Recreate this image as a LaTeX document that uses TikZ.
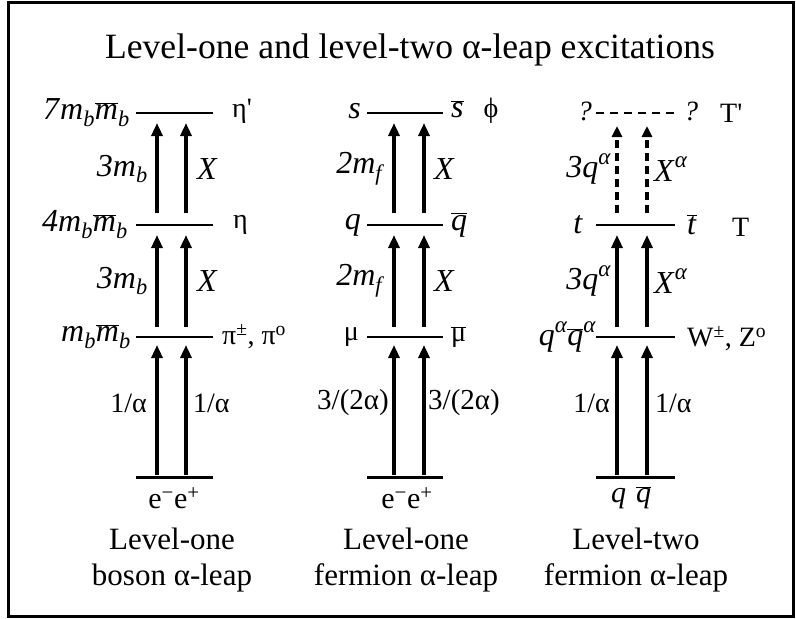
\documentclass[tikz,border=0pt]{standalone}
\usepackage{fontspec}
\setmainfont{Liberation Serif}
\usetikzlibrary{arrows.meta}
\newcommand\Mb{\textit{m}\textsubscript{\textit{b}}}
\newcommand\Mbb{$\overline{\hbox{\textit{m}}}$\textsubscript{\textit{b}}}
\newcommand\ovl[1]{$\overline{\hbox{#1}}$}
\newcommand\supal{\raisebox{0.42em}{\fontsize{23}{24}\selectfont\textit{α}}}
\begin{document}
\begin{tikzpicture}[x=1pt,y=-1pt,
  lbl/.style={inner sep=0pt, font=\fontsize{28}{30}\selectfont},
  ilbl/.style={inner sep=0pt, font=\fontsize{32}{34}\selectfont},
  lft/.style={lbl, anchor=east},
  rgt/.style={lbl, anchor=west},
  ilft/.style={ilbl, anchor=east},
  irgt/.style={ilbl, anchor=west},
  captext/.style={inner sep=0pt, font=\fontsize{31}{36}\selectfont, align=center},
  lvline/.style={line width=2pt},
  groundline/.style={line width=3pt},
  exarrow/.style={line width=3.6pt, -{Triangle[width=11pt,length=13pt]}},
  dasharrow/.style={line width=3.6pt, dash pattern=on 8pt off 5pt, -{Triangle[width=10pt,length=11pt]}},
  dashlevel/.style={line width=2.4pt, dash pattern=on 8pt off 6pt}]
\useasboundingbox (0,0) rectangle (796,619);
\draw[line width=3pt] (8,2.5) rectangle (793.5,616.5);
\node[inner sep=0pt, font=\fontsize{35.6}{40}\selectfont] (title) at (410,50) {Level-one and level-two α-leap excitations};

\foreach \y/\n in {113/a, 225/b, 337/c, 477/d} {
  \coordinate (c1L\n) at (136,\y); \coordinate (c1R\n) at (213,\y);
  \coordinate (c2L\n) at (367,\y); \coordinate (c2R\n) at (443,\y);
  \coordinate (c3L\n) at (596,\y); \coordinate (c3R\n) at (675,\y);
}
% ---------- column 1 ----------
\draw[lvline] (c1La) -- (c1Ra);
\draw[lvline] (c1Lb) -- (c1Rb);
\draw[lvline] (c1Lc) -- (c1Rc);
\draw[groundline] (c1Ld) -- (c1Rd);
\foreach \x/\k in {157/p, 186/q} {
  \coordinate (c1\k1) at (\x,213); \coordinate (c1\k2) at (\x,123);
  \coordinate (c1\k3) at (\x,327); \coordinate (c1\k4) at (\x,235);
  \coordinate (c1\k5) at (\x,475); \coordinate (c1\k6) at (\x,345);
  \draw[exarrow] (c1\k1) -- (c1\k2);
  \draw[exarrow] (c1\k3) -- (c1\k4);
  \draw[exarrow] (c1\k5) -- (c1\k6);
}
\node[ilft] (l1a) at (130,113) {\textit{7}\Mb\Mbb};
\node[ilft] (l1b) at (128,225) {\textit{4}\Mb\Mbb};
\node[ilft] (l1c) at (131,337) {\Mb\Mbb};
\node[rgt] (r1a) at (232,111) {η\textquotesingle};
\node[rgt] (r1b) at (233,225) {η};
\node[rgt] (r1c) at (222,337) {π\textsuperscript{±}, π\textsuperscript{o}};
\node[ilft] (u1a) at (148,169) {\textit{3}\Mb};
\node[irgt] (u1b) at (197,169) {\textit{X}};
\node[ilft] (m1a) at (148,281) {\textit{3}\Mb};
\node[irgt] (m1b) at (197,281) {\textit{X}};
\node[lft] (d1a) at (147,403) {1/α};
\node[rgt] (d1b) at (193,403) {1/α};
\node[lbl, font=\fontsize{30}{34}\selectfont] (e1) at (174,498) {e\textsuperscript{−}e\textsuperscript{+}};
\node[captext] (cap1) at (172,560) {Level-one\\[0pt]boson α-leap};

% ---------- column 2 ----------
\draw[lvline] (c2La) -- (c2Ra);
\draw[lvline] (c2Lb) -- (c2Rb);
\draw[lvline] (c2Lc) -- (c2Rc);
\draw[groundline] (c2Ld) -- (c2Rd);
\foreach \x/\k in {394/p, 424/q} {
  \coordinate (c2\k1) at (\x,213); \coordinate (c2\k2) at (\x,123);
  \coordinate (c2\k3) at (\x,327); \coordinate (c2\k4) at (\x,235);
  \coordinate (c2\k5) at (\x,475); \coordinate (c2\k6) at (\x,345);
  \draw[exarrow] (c2\k1) -- (c2\k2);
  \draw[exarrow] (c2\k3) -- (c2\k4);
  \draw[exarrow] (c2\k5) -- (c2\k6);
}
\node[ilft] (l2a) at (361,111) {\textit{s}};
\node[ilft] (l2b) at (361,225) {\textit{q}};
\node[lft] (l2c) at (359,337) {μ};
\node[irgt] (r2a) at (451,111) {\ovl{\textit{s}}\hspace{20pt}\fontsize{28}{30}\selectfont ϕ};
\node[irgt] (r2b) at (451,225) {\ovl{\textit{q}}};
\node[rgt] (r2c) at (451,337) {\ovl{μ}};
\node[ilft] (u2a) at (385,169) {\textit{2}\textit{m}\textsubscript{\textit{f}}};
\node[irgt] (u2b) at (434,169) {\textit{X}};
\node[ilft] (m2a) at (385,281) {\textit{2}\textit{m}\textsubscript{\textit{f}}};
\node[irgt] (m2b) at (434,281) {\textit{X}};
\node[lft, font=\fontsize{29}{30}\selectfont] (d2a) at (389,403) {3/(2α)};
\node[rgt, font=\fontsize{29}{30}\selectfont] (d2b) at (428,403) {3/(2α)};
\node[lbl, font=\fontsize{30}{34}\selectfont] (e2) at (407,498) {e\textsuperscript{−}e\textsuperscript{+}};
\node[captext] (cap2) at (406,560) {Level-one\\[0pt]fermion α-leap};

% ---------- column 3 ----------
\draw[dashlevel] (c3La) -- (c3Ra);
\draw[lvline] (c3Lb) -- (c3Rb);
\draw[lvline] (c3Lc) -- (c3Rc);
\draw[groundline] (c3Ld) -- (c3Rd);
\foreach \x/\k in {617/p, 647/q} {
  \coordinate (c3\k1) at (\x,213); \coordinate (c3\k2) at (\x,126);
  \coordinate (c3\k3) at (\x,327); \coordinate (c3\k4) at (\x,235);
  \coordinate (c3\k5) at (\x,475); \coordinate (c3\k6) at (\x,345);
  \draw[dasharrow] (c3\k1) -- (c3\k2);
  \draw[exarrow] (c3\k3) -- (c3\k4);
  \draw[exarrow] (c3\k5) -- (c3\k6);
}
\node[lft] (l3a) at (592,111) {\textit{?}};
\node[rgt] (r3a) at (684,111) {\textit{?}};
\node[rgt] (r3x) at (720,113) {T\textquotesingle};
\node[ilft] (l3b) at (583,225) {\textit{t}};
\node[irgt] (r3b) at (687,225) {\ovl{\textit{t}}};
\node[rgt] (r3y) at (732,227) {T};
\node[ilft] (l3c) at (596,337) {\textit{q}\supal\ovl{\textit{q}}\supal};
\node[rgt] (r3c) at (687,339) {W\textsuperscript{±}, Z\textsuperscript{o}};
\node[ilft] (u3a) at (611,169) {\textit{3q}\supal};
\node[irgt] (u3b) at (654,169) {\textit{X}\supal};
\node[ilft] (m3a) at (611,281) {\textit{3q}\supal};
\node[irgt] (m3b) at (654,281) {\textit{X}\supal};
\node[lft] (d3a) at (610,403) {1/α};
\node[rgt] (d3b) at (655,403) {1/α};
\node[ilbl, font=\fontsize{30}{34}\selectfont] (e3) at (631,498) {\textit{q}\hspace{10pt}\ovl{\textit{q}}};
\node[captext] (cap3) at (636,560) {Level-two\\[0pt]fermion α-leap};
\end{tikzpicture}
\end{document}
